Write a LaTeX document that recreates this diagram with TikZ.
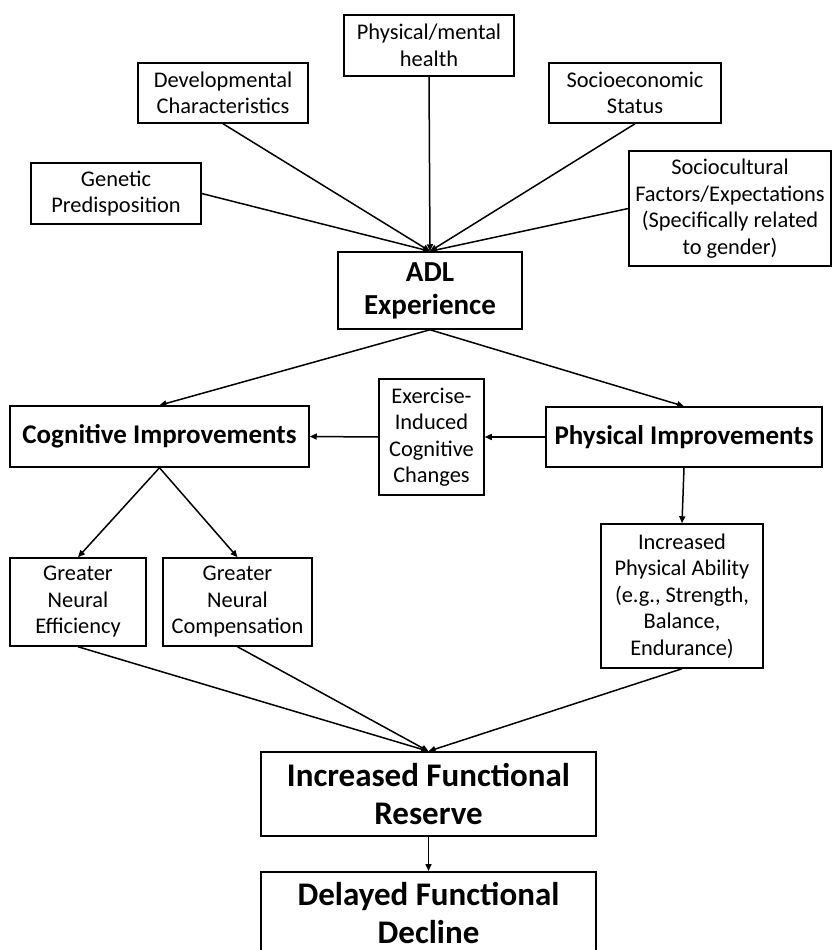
\documentclass[tikz,border=0pt]{standalone}
\usepackage{fontspec}
\setmainfont{Carlito}
\usetikzlibrary{arrows.meta}
\begin{document}
\begin{tikzpicture}[x=1pt,y=-1pt,
  box/.style={draw,line width=1.5pt,rectangle,inner sep=0pt,align=center,
    font=\fontsize{22.4}{26.5}\selectfont},
  bigbox/.style={box,font=\fontsize{33}{38}\selectfont\bfseries},
  midbox/.style={box,font=\fontsize{27}{30}\selectfont\bfseries},
  adlbox/.style={box,font=\fontsize{29}{33}\selectfont\bfseries},
  link/.style={line width=1.5pt,-{Triangle[length=7pt,width=6pt]}}]
\useasboundingbox (0,0) rectangle (832,950);
\fill[white] (0,0) rectangle (832,950);
\node[box,minimum width=170,minimum height=61] (gen) at (116,193.5) {Genetic\\Predisposition};
\node[box,minimum width=170,minimum height=60] (dev) at (223,93) {Developmental\\Characteristics};
\node[box,minimum width=170,minimum height=61] (phm) at (429,45.5) {Physical/mental\\health};
\node[box,minimum width=172,minimum height=60] (ses) at (635,93) {Socioeconomic\\Status};
\node[box,minimum width=202,minimum height=115] (scf) at (730,208.5) {Sociocultural\\Factors/Expectations\\(Specifically related\\to gender)};
\node[adlbox,minimum width=184,minimum height=77] (adl) at (430,290.5) {ADL\\Experience};
\node[midbox,minimum width=299,minimum height=61] (cog) at (159.5,436.5) {Cognitive Improvements};
\node[box,minimum width=105,minimum height=116] (exe) at (431.5,437) {Exercise-\\Induced\\Cognitive\\Changes};
\node[midbox,minimum width=276,minimum height=60] (phi) at (684,437) {Physical Improvements};
\node[box,minimum width=136,minimum height=88] (gne) at (78,602) {Greater\\Neural\\Efficiency};
\node[box,minimum width=149,minimum height=88] (gnc) at (237.5,602) {Greater\\Neural\\Compensation};
\node[box,minimum width=162,minimum height=144] (ipa) at (682,596) {Increased\\Physical Ability\\(e.g., Strength,\\Balance,\\Endurance)};
\node[bigbox,minimum width=335,minimum height=84] (ifr) at (428.5,794) {Increased Functional\\Reserve};
\node[bigbox,minimum width=335,minimum height=82,anchor=north] (dfd) at (428.5,871) {Delayed Functional\\Decline};
\draw[link] (gen.east) -- (adl.north);
\draw[link] (dev.south) -- (adl.north);
\draw[link] (phm.south) -- (adl.north);
\draw[link] (ses.south) -- (adl.north);
\draw[link] (scf.west) -- (adl.north);
\draw[link] (adl.south) -- (cog.north);
\draw[link] (adl.south) -- (phi.north);
\draw[link] (phi.west) -- (exe.east);
\draw[link] (exe.west) -- (cog.east);
\draw[link] (cog.south) -- (gne.north);
\draw[link] (cog.south) -- (gnc.north);
\draw[link] (phi.south) -- (ipa.north);
\draw[link] (gne.south) -- (ifr.north);
\draw[link] (gnc.south) -- (ifr.north);
\draw[link] (ipa.south) -- (ifr.north);
\draw[link] (ifr.south) -- (dfd.north);
\end{tikzpicture}
\end{document}
